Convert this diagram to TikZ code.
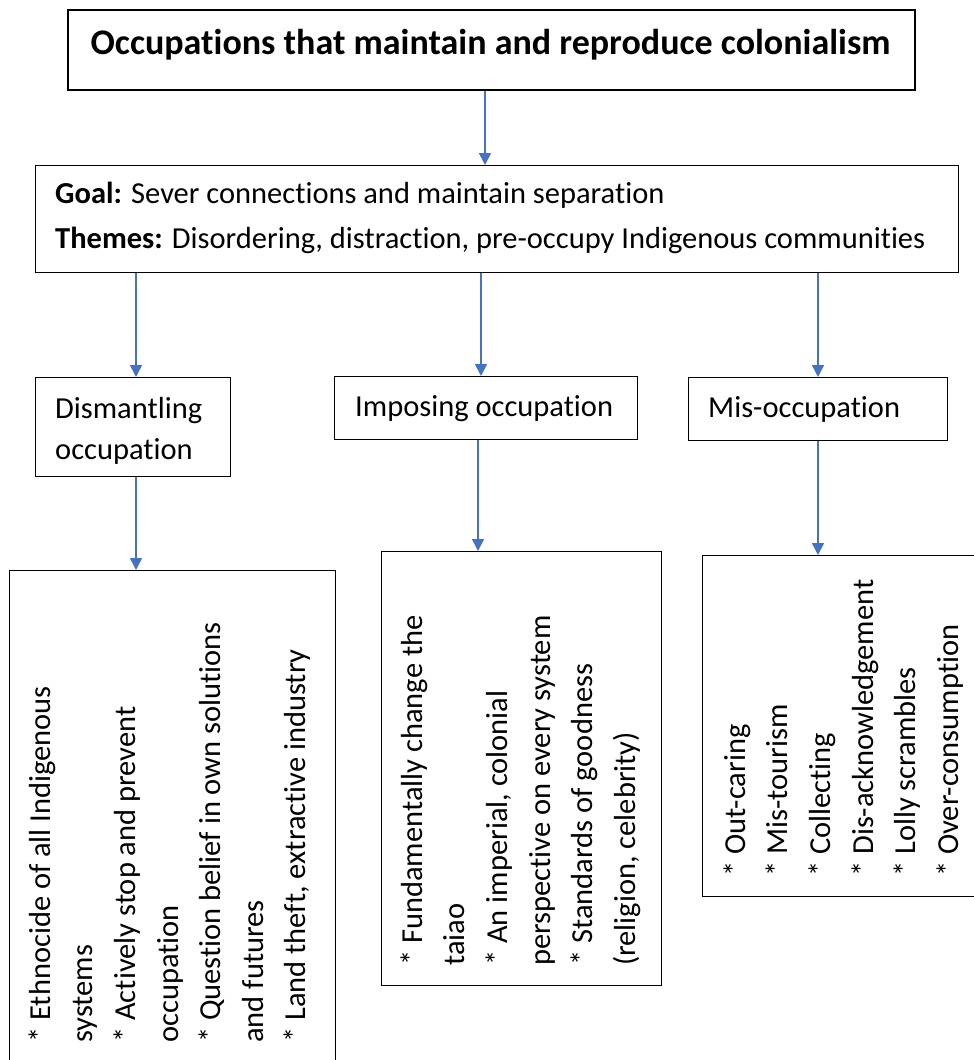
\documentclass[tikz,border=0pt]{standalone}
\usepackage{fontspec}
\setmainfont{Carlito}[Ligatures=NoCommon]
\usetikzlibrary{arrows.meta}
\definecolor{arrowblue}{RGB}{68,114,196}
\begin{document}
\begin{tikzpicture}[x=1pt,y=-1pt,
  frame/.style={draw=black,line width=1.2pt,inner sep=0pt,anchor=north west},
  arr/.style={draw=arrowblue,line width=1.6pt,-{Triangle[length=12pt,width=12pt]}},
  txt/.style={inner sep=0pt,anchor=base west,font=\fontsize{30.5}{36}\selectfont},
  vlist/.style={inner sep=0pt,anchor=north west,rotate=90,align=left,font=\fontsize{30.5}{42.6}\selectfont}]
\useasboundingbox (0,0) rectangle (974,1060);
% frames
\node[frame,line width=1.5pt,minimum width=847pt,minimum height=80pt] (top) at (67,9) {};
\node[frame,minimum width=923pt,minimum height=107pt] (goal) at (35,165) {};
\node[frame,minimum width=195pt,minimum height=99pt] (dis) at (35,377) {};
\node[frame,minimum width=303pt,minimum height=63pt] (imp) at (334,376) {};
\node[frame,minimum width=259pt,minimum height=63pt] (mis) at (688,377) {};
\node[frame,minimum width=326pt,minimum height=510pt] (bl) at (9,570) {};
\node[frame,minimum width=280pt,minimum height=434pt] (bm) at (381,551) {};
\node[frame,minimum width=300pt,minimum height=341pt] (br) at (702,555) {};
% texts
\node[inner sep=0pt,anchor=base,font=\bfseries\fontsize{36}{40}\selectfont] (ttl) at (490.5,54) {Occupations that maintain and reproduce colonialism};
\node[txt] (goaltxt) at (55,203) {\textbf{Goal:} Sever connections and maintain separation};
\node[txt] (themetxt) at (55,248) {\textbf{Themes:} Disordering, distraction, pre-occupy Indigenous communities};
\node[txt] (distxt1) at (55,418) {Dismantling};
\node[txt] (distxt2) at (55,459) {occupation};
\node[txt] (imptxt) at (355,416) {Imposing occupation};
\node[txt] (mistxt) at (708,417) {Mis-occupation};
\node[vlist] (bltxt) at (24,1043) {\rule{0pt}{26pt}* Ethnocide of all Indigenous\\ systems\\ * Actively stop and prevent\\ occupation\\ * Question belief in own solutions\\ and futures\\ * Land theft, extractive industry};
\node[vlist] (bmtxt) at (396,966) {\rule{0pt}{26pt}* Fundamentally change the\\ taiao\\ * An imperial, colonial\\ perspective on every system\\ * Standards of goodness\\ (religion, celebrity)};
\node[vlist] (brtxt) at (719,877) {\rule{0pt}{26pt}* Out-caring\\ * Mis-tourism\\ * Collecting\\ * Dis-acknowledgement\\ * Lolly scrambles\\ * Over-consumption};
% arrows
\coordinate (xa) at (136,0);
\coordinate (xb) at (481,0);
\coordinate (xc) at (818,0);
\coordinate (xd) at (478,0);
\coordinate (xt) at (485,0);
\draw[arr] (top.south -| xt) -- (goal.north -| xt);
\draw[arr] (goal.south -| xa) -- (dis.north -| xa);
\draw[arr] (goal.south -| xb) -- (imp.north -| xb);
\draw[arr] (goal.south -| xc) -- (mis.north -| xc);
\draw[arr] (dis.south -| xa) -- (bl.north -| xa);
\draw[arr] (imp.south -| xd) -- (bm.north -| xd);
\draw[arr] (mis.south -| xc) -- (br.north -| xc);
\end{tikzpicture}
\end{document}
